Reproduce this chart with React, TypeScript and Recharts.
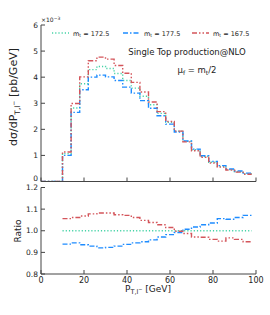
import React from 'react';
import { LineChart, Line, XAxis, YAxis } from 'recharts';

const binStarts = [10, 14, 18, 22, 26, 30, 34, 38, 42, 46, 50, 54, 58, 62, 66, 70, 74, 78, 82, 86, 90, 94];
const binEnd = 98;
const xsec1725 = [1.07, 2.82, 3.75, 4.29, 4.41, 4.33, 4.14, 3.87, 3.58, 3.27, 2.94, 2.61, 2.27, 1.93, 1.54, 1.22, 0.96, 0.74, 0.58, 0.455, 0.375, 0.295];
const xsec1775 = [1.0, 2.65, 3.52, 4.0, 4.08, 4.01, 3.87, 3.62, 3.39, 3.1, 2.81, 2.52, 2.2, 1.9, 1.55, 1.24, 0.99, 0.77, 0.61, 0.48, 0.4, 0.32];
const xsec1675 = [1.13, 2.99, 4.01, 4.63, 4.77, 4.69, 4.45, 4.15, 3.8, 3.43, 3.05, 2.68, 2.3, 1.93, 1.52, 1.18, 0.93, 0.71, 0.55, 0.44, 0.36, 0.28];
const ratio1725 = [1, 1, 1, 1, 1, 1, 1, 1, 1, 1, 1, 1, 1, 1, 1, 1, 1, 1, 1, 1, 1, 1];
const ratio1775 = [0.938, 0.944, 0.935, 0.929, 0.921, 0.923, 0.929, 0.937, 0.944, 0.949, 0.958, 0.971, 0.982, 0.992, 1.007, 1.017, 1.028, 1.036, 1.056, 1.053, 1.061, 1.071];
const ratio1675 = [1.056, 1.061, 1.068, 1.078, 1.082, 1.082, 1.074, 1.071, 1.061, 1.048, 1.038, 1.028, 1.015, 0.998, 0.987, 0.971, 0.97, 0.96, 0.952, 0.967, 0.96, 0.949];
const xTicks = [0, 20, 40, 60, 80, 100];
const topTicks = [0, 1, 2, 3, 4, 5, 6];
const ratioTicks = [0.8, 0.9, 1.0, 1.1, 1.2];

const GREEN = '#45d3a6';
const BLUE = '#1e8cff';
const RED = '#d4555b';
const AX = '#444';
const FONT = 'DejaVu Sans';

const topData = [
  { x: 0, a: 0, b: 0, c: 0 },
  ...binStarts.map((x, i) => ({ x, a: xsec1725[i], b: xsec1775[i], c: xsec1675[i] })),
  { x: binEnd, a: xsec1725[xsec1725.length - 1], b: xsec1775[xsec1775.length - 1], c: xsec1675[xsec1675.length - 1] },
];
const ratioData = [
  ...binStarts.map((x, i) => ({ x, a: ratio1725[i], b: ratio1775[i], c: ratio1675[i] })),
  { x: binEnd, a: ratio1725[ratio1725.length - 1], b: ratio1775[ratio1775.length - 1], c: ratio1675[ratio1675.length - 1] },
];

const tickStyle = { fontSize: 8, fill: '#222', fontFamily: FONT };

function makeYTick(fmt: (v: number) => string, shiftFor: (v: number) => number) {
  return (p: any) => {
    const v = Number(p.payload.value);
    return (
      <text x={p.x} y={p.y + shiftFor(v)} dy="0.355em" textAnchor="end" fontSize={7.5} fill="#222" fontFamily={FONT}>
        {fmt(v)}
      </text>
    );
  };
}

function Panel(props: { data: any[]; width: number; height: number; margin: any; yDomain: number[]; yTicks: number[]; xLabels: boolean; xHeight: number; yTick: any }) {
  const { data, width, height, margin, yDomain, yTicks, xLabels, xHeight, yTick } = props;
  return (
    <LineChart width={width} height={height} data={data} margin={margin}>
      <XAxis dataKey="x" type="number" domain={[0, 100]} ticks={xTicks} allowDataOverflow interval={0}
        height={xHeight} tickSize={-4} tickMargin={xLabels ? 7 : 0}
        tickFormatter={(v: number) => (xLabels ? String(v) : '')}
        stroke={AX} tick={tickStyle} />
      <XAxis xAxisId="top" orientation="top" dataKey="x" type="number" domain={[0, 100]} ticks={xTicks} allowDataOverflow interval={0}
        height={0} tickSize={-4} tickFormatter={() => ''} stroke={AX} />
      <YAxis type="number" domain={yDomain} ticks={yTicks} allowDataOverflow width={41} interval={0}
        tickSize={-4} tickMargin={7} stroke={AX} tick={yTick} />
      <YAxis yAxisId="right" orientation="right" type="number" domain={yDomain} ticks={yTicks} allowDataOverflow width={0} interval={0}
        tickSize={-4} tickFormatter={() => ''} stroke={AX} />
      <Line type="stepAfter" dataKey="a" stroke={GREEN} strokeWidth={1.4} strokeDasharray="1.2 2" dot={false} isAnimationActive={false} />
      <Line type="stepAfter" dataKey="b" stroke={BLUE} strokeWidth={1.4} strokeDasharray="5 2 1.5 2" dot={false} isAnimationActive={false} />
      <Line type="stepAfter" dataKey="c" stroke={RED} strokeWidth={1.4} strokeDasharray="5 2 1.5 2 1.5 2" dot={false} isAnimationActive={false} />
    </LineChart>
  );
}

function LegendItem(props: { x: number; color: string; dash: string; label: string }) {
  const { x, color, dash, label } = props;
  return (
    <g>
      <line x1={x} y1={33} x2={x + 17} y2={33} stroke={color} strokeWidth={1.4} strokeDasharray={dash} />
      <text x={x + 21} y={35.5} fontSize={6.5} fill="#222" fontFamily={FONT}>
        m<tspan fontSize={4.5} dy={1.5}>t</tspan><tspan dy={-1.5}> = {label}</tspan>
      </text>
    </g>
  );
}

const topYTick = makeYTick((v) => String(v), (v) => (v === 0 ? -3 : 0));
const ratioYTick = makeYTick((v) => v.toFixed(1), () => 0);

export default function App() {
  return (
    <div style={{ position: 'absolute', left: 0, top: 0, width: 270, height: 315, background: '#fff', fontFamily: FONT }}>
      <div style={{ position: 'absolute', left: 0, top: 180 }}>
        <Panel data={ratioData} width={270} height={135} margin={{ top: 7.5, right: 14, left: 0, bottom: 0 }}
          yDomain={[0.8, 1.2]} yTicks={ratioTicks} xLabels={true} xHeight={41} yTick={ratioYTick} />
      </div>
      <div style={{ position: 'absolute', left: 0, top: 0 }}>
        <Panel data={topData} width={270} height={190} margin={{ top: 25, right: 14, left: 0, bottom: 0 }}
          yDomain={[0, 6]} yTicks={topTicks} xLabels={false} xHeight={8.5} yTick={topYTick} />
      </div>
      <svg width={270} height={315} style={{ position: 'absolute', left: 0, top: 0, pointerEvents: 'none' }}>
        <text x={41} y={22} fontSize={6} fill="#222" fontFamily={FONT}>
          ×10<tspan fontSize={4.5} dy={-2}>−3</tspan>
        </text>
        <LegendItem x={52} color={GREEN} dash="1.2 2" label="172.5" />
        <LegendItem x={123} color={BLUE} dash="5 2 1.5 2" label="177.5" />
        <LegendItem x={192} color={RED} dash="5 2 1.5 2 1.5 2" label="167.5" />
        <text x={187} y={55} fontSize={8.5} textAnchor="middle" fill="#222" fontFamily={FONT}>Single Top production@NLO</text>
        <text x={197} y={73} fontSize={8.5} textAnchor="middle" fill="#222" fontFamily={FONT}>
          μ<tspan fontSize={6} dy={2}>f</tspan><tspan dy={-2}> = m</tspan><tspan fontSize={6} dy={2}>t</tspan><tspan dy={-2}>/2</tspan>
        </text>
        <text transform="translate(17,97) rotate(-90)" fontSize={11} textAnchor="middle" fill="#222" fontFamily={FONT}>
          dσ/dP<tspan fontSize={7.5} dy={2.5}>T,l</tspan><tspan fontSize={6} dy={-4}>−</tspan><tspan dy={1.5}> [pb/GeV]</tspan>
        </text>
        <text transform="translate(21,231) rotate(-90)" fontSize={9} textAnchor="middle" fill="#222" fontFamily={FONT}>Ratio</text>
        <text x={148} y={292} fontSize={9} textAnchor="middle" fill="#222" fontFamily={FONT}>
          P<tspan fontSize={6.5} dy={2}>T,l</tspan><tspan fontSize={5} dy={-3.5}>−</tspan><tspan dy={1.5}> [GeV]</tspan>
        </text>
      </svg>
    </div>
  );
}
